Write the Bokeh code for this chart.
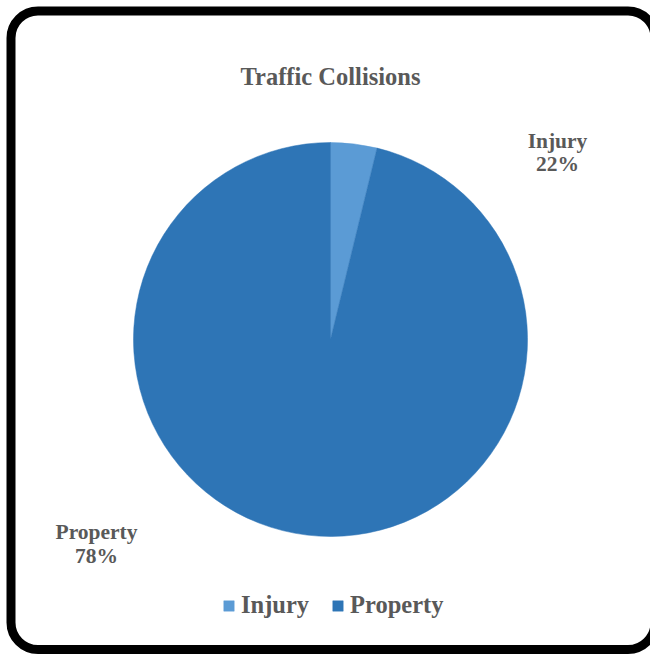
import math
from bokeh.plotting import figure
from bokeh.models import ColumnDataSource, Range1d, BoxAnnotation, Legend, LegendItem
from bokeh.core.properties import value
from bokeh.embed import file_html
from bokeh.resources import INLINE

# ---- data ----
title_text = "Traffic Collisions"
categories = ["Injury", "Property"]
slice_sizes = [3.8, 96.2]          # slice sizes as drawn in the picture
pct_labels = ["22%", "78%"]         # percentage labels as printed
colors = ["#5B9BD5", "#2E75B6"]

FONT_NAME = "Liberation Serif"
FONT = value(FONT_NAME)
GREY = "#595959"

W, H = 650, 654
p = figure(width=W, height=H, output_backend="svg", toolbar_location=None,
           x_range=Range1d(0, W), y_range=Range1d(0, H),
           x_axis_location=None, y_axis_location=None, min_border=0)
p.grid.visible = False
p.outline_line_color = None
p.background_fill_color = "white"
p.border_fill_color = "white"

def Y(py):
    return H - py

# pie geometry
cx, cy, r = 330, Y(339), 197
total = sum(slice_sizes)
ends, starts = [], []
a = math.pi / 2
for v in slice_sizes:
    ends.append(a)
    a -= 2 * math.pi * v / total
    starts.append(a)

src = ColumnDataSource(dict(name=categories, start=starts, end=ends, color=colors))
wr = p.wedge(x=cx, y=cy, radius=r, start_angle="start", end_angle="end",
             fill_color="color", line_color="color", line_width=0.5, source=src)

# labels
lab_x = [557, 96]
lab_y1 = [Y(140), Y(531)]
lab_y2 = [Y(163), Y(555)]
p.text(x=lab_x, y=lab_y1, text=categories, text_font=FONT, text_font_style="bold",
       text_font_size="21.5px", text_color=GREY, text_align="center", text_baseline="middle")
p.text(x=lab_x, y=lab_y2, text=pct_labels, text_font=FONT, text_font_style="bold",
       text_font_size="21.5px", text_color=GREY, text_align="center", text_baseline="middle")

# title
p.text(x=[330], y=[Y(76)], text=[title_text], text_font=FONT, text_font_style="bold",
       text_font_size="24.5px", text_color=GREY, text_align="center", text_baseline="middle")

# legend
items = [LegendItem(label=categories[i], renderers=[wr], index=i) for i in range(len(categories))]
leg = Legend(items=items, orientation="horizontal", location=(222, 35),
             label_text_font=FONT_NAME, label_text_font_style="bold", label_text_font_size="24.5px",
             label_text_color=GREY, glyph_width=13, glyph_height=13, label_standoff=6,
             spacing=22, padding=0, margin=0, border_line_alpha=0, background_fill_alpha=0)
p.add_layout(leg, "center")

# rounded frame
frame = BoxAnnotation(left=10.5, right=654.5, top=Y(10.5), bottom=Y(649), border_radius=27,
                      fill_alpha=0, line_color="black", line_width=9, line_alpha=1,
                      editable=False)
p.add_layout(frame)

open("out.html", "w").write(file_html(p, INLINE))
